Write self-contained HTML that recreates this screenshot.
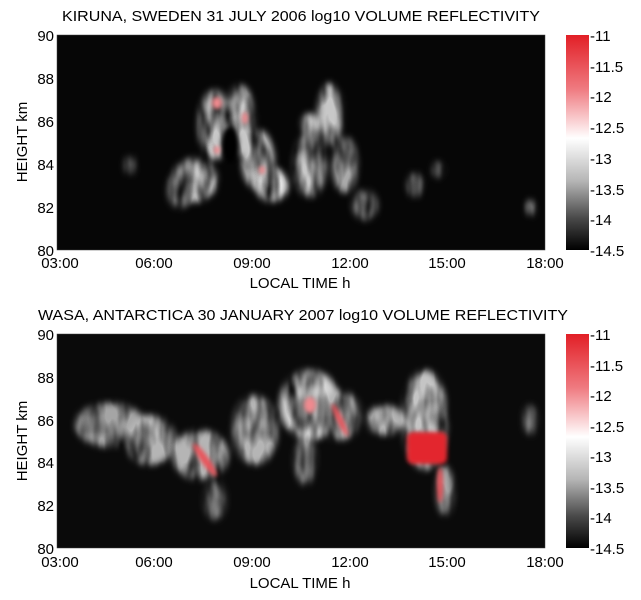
<!DOCTYPE html>
<html><head><meta charset="utf-8"><style>
body{margin:0;background:#fff;}
svg{display:block;font-family:"Liberation Sans",sans-serif;}
</style></head><body>
<svg width="641" height="600" viewBox="0 0 641 600" xmlns="http://www.w3.org/2000/svg">
<defs>
<filter id="b" x="-50%" y="-50%" width="200%" height="200%">
<feGaussianBlur stdDeviation="3.5" result="bl"/>
<feTurbulence type="fractalNoise" baseFrequency="0.08 0.03" numOctaves="2" seed="3" result="n"/>
<feColorMatrix in="n" type="matrix" values="0 0 0 0 0  0 0 0 0 0  0 0 0 0 0  1.8 0 0 0 -0.2" result="na"/>
<feComposite in="bl" in2="na" operator="in"/>
</filter>
<filter id="s" x="-50%" y="-50%" width="200%" height="200%"><feGaussianBlur stdDeviation="2"/></filter>
<linearGradient id="cb" x1="0" y1="0" x2="0" y2="1">
<stop offset="0" stop-color="#e21f26"/><stop offset="0.25" stop-color="#ef7a80"/>
<stop offset="0.48" stop-color="#ffffff"/><stop offset="0.68" stop-color="#b5b5b5"/>
<stop offset="0.85" stop-color="#4a4a4a"/><stop offset="1" stop-color="#000"/>
</linearGradient>
<clipPath id="c1"><rect x="57" y="35" width="488" height="215"/></clipPath>
<clipPath id="c2"><rect x="57" y="334" width="488" height="214"/></clipPath>
</defs>

<!-- TOP PANEL -->
<text x="62" y="21" font-size="15" textLength="478" lengthAdjust="spacingAndGlyphs">KIRUNA, SWEDEN 31 JULY 2006   log10 VOLUME REFLECTIVITY</text>
<rect x="57" y="35" width="488" height="215" fill="#060606"/>
<g clip-path="url(#c1)">
<g filter="url(#b)" fill="#c8c8c8">
<ellipse cx="195" cy="180" rx="22" ry="22"/>
<ellipse cx="215" cy="125" rx="16" ry="35"/>
<ellipse cx="240" cy="120" rx="14" ry="35"/>
<ellipse cx="258" cy="160" rx="16" ry="30"/>
<ellipse cx="272" cy="185" rx="16" ry="17" fill="#e8e8e8"/>
<ellipse cx="310" cy="165" rx="16" ry="32"/>
<ellipse cx="310" cy="125" rx="8" ry="12"/>
<ellipse cx="330" cy="115" rx="12" ry="32"/>
<ellipse cx="345" cy="165" rx="12" ry="28" fill="#aaa"/>
<ellipse cx="365" cy="205" rx="12" ry="15" fill="#888"/>
<ellipse cx="180" cy="190" rx="12" ry="18" fill="#999"/>
<ellipse cx="130" cy="165" rx="5" ry="9" fill="#888"/>
<ellipse cx="415" cy="185" rx="7" ry="12" fill="#888"/>
<ellipse cx="438" cy="170" rx="5" ry="8" fill="#888"/>
<ellipse cx="530" cy="208" rx="5" ry="8" fill="#888"/>
</g>
<ellipse cx="230" cy="145" rx="9" ry="18" fill="#060606" filter="url(#s)"/>
<g filter="url(#s)" fill="#f08a8f">
<ellipse cx="217" cy="103" rx="5" ry="6"/>
<ellipse cx="245" cy="118" rx="3" ry="6"/>
<ellipse cx="217" cy="150" rx="3" ry="4"/>
<ellipse cx="262" cy="170" rx="3" ry="4"/>
</g>
</g>
<rect x="57" y="35" width="488" height="215" fill="none" stroke="#444" stroke-width="0.5"/>
<g font-size="15" text-anchor="end">
<text x="54" y="41">90</text><text x="54" y="84">88</text><text x="54" y="127">86</text>
<text x="54" y="170">84</text><text x="54" y="213">82</text><text x="54" y="256">80</text>
</g>
<g font-size="15" text-anchor="middle">
<text x="60" y="268">03:00</text><text x="154" y="268">06:00</text><text x="252" y="268">09:00</text>
<text x="350" y="268">12:00</text><text x="447" y="268">15:00</text><text x="545" y="268">18:00</text>
<text x="300" y="288">LOCAL TIME h</text>
</g>
<text transform="translate(27,142) rotate(-90)" font-size="15" text-anchor="middle">HEIGHT km</text>
<rect x="566" y="35" width="23" height="215" fill="url(#cb)"/>
<g font-size="15">
<text x="590" y="41">-11</text><text x="590" y="72">-11.5</text><text x="590" y="102">-12</text>
<text x="590" y="133">-12.5</text><text x="590" y="164">-13</text><text x="590" y="195">-13.5</text>
<text x="590" y="225">-14</text><text x="590" y="256">-14.5</text>
</g>

<!-- BOTTOM PANEL -->
<text x="38" y="320" font-size="15" textLength="530" lengthAdjust="spacingAndGlyphs">WASA, ANTARCTICA 30 JANUARY 2007   log10 VOLUME REFLECTIVITY</text>
<rect x="57" y="334" width="488" height="214" fill="#0a0a0a"/>
<g clip-path="url(#c2)">
<g filter="url(#b)" fill="#b5b5b5">
<ellipse cx="110" cy="425" rx="35" ry="22" fill="#a5a5a5"/>
<ellipse cx="150" cy="440" rx="25" ry="25"/>
<ellipse cx="200" cy="455" rx="28" ry="25"/>
<ellipse cx="215" cy="500" rx="10" ry="20" fill="#888"/>
<ellipse cx="255" cy="430" rx="22" ry="35"/>
<ellipse cx="310" cy="405" rx="30" ry="35" fill="#d5d5d5"/>
<ellipse cx="305" cy="460" rx="10" ry="25" fill="#999"/>
<ellipse cx="340" cy="415" rx="20" ry="25"/>
<ellipse cx="385" cy="420" rx="18" ry="15"/>
<ellipse cx="425" cy="420" rx="22" ry="50" fill="#c5c5c5"/>
<ellipse cx="445" cy="490" rx="8" ry="25" fill="#aaa"/>
<ellipse cx="530" cy="420" rx="6" ry="15" fill="#888"/>
</g>
<g filter="url(#s)" fill="#e8555c">
<ellipse cx="205" cy="460" rx="4" ry="20" transform="rotate(-35 205 460)"/>
<ellipse cx="310" cy="405" rx="6" ry="8" fill="#f08a8f"/>
<ellipse cx="340" cy="420" rx="3" ry="18" transform="rotate(-25 340 420)"/>
<rect x="407" y="432" width="40" height="32" rx="6" fill="#e3262d"/>
<ellipse cx="440" cy="485" rx="3" ry="18" fill="#e8555c"/>
</g>
</g>
<rect x="57" y="334" width="488" height="214" fill="none" stroke="#444" stroke-width="0.5"/>
<g font-size="15" text-anchor="end">
<text x="54" y="340">90</text><text x="54" y="383">88</text><text x="54" y="426">86</text>
<text x="54" y="468">84</text><text x="54" y="511">82</text><text x="54" y="554">80</text>
</g>
<g font-size="15" text-anchor="middle">
<text x="60" y="567">03:00</text><text x="154" y="567">06:00</text><text x="252" y="567">09:00</text>
<text x="350" y="567">12:00</text><text x="447" y="567">15:00</text><text x="545" y="567">18:00</text>
<text x="300" y="588">LOCAL TIME h</text>
</g>
<text transform="translate(27,441) rotate(-90)" font-size="15" text-anchor="middle">HEIGHT km</text>
<rect x="566" y="334" width="23" height="214" fill="url(#cb)"/>
<g font-size="15">
<text x="590" y="340">-11</text><text x="590" y="371">-11.5</text><text x="590" y="401">-12</text>
<text x="590" y="432">-12.5</text><text x="590" y="462">-13</text><text x="590" y="493">-13.5</text>
<text x="590" y="523">-14</text><text x="590" y="554">-14.5</text>
</g>
</svg>
</body></html>
